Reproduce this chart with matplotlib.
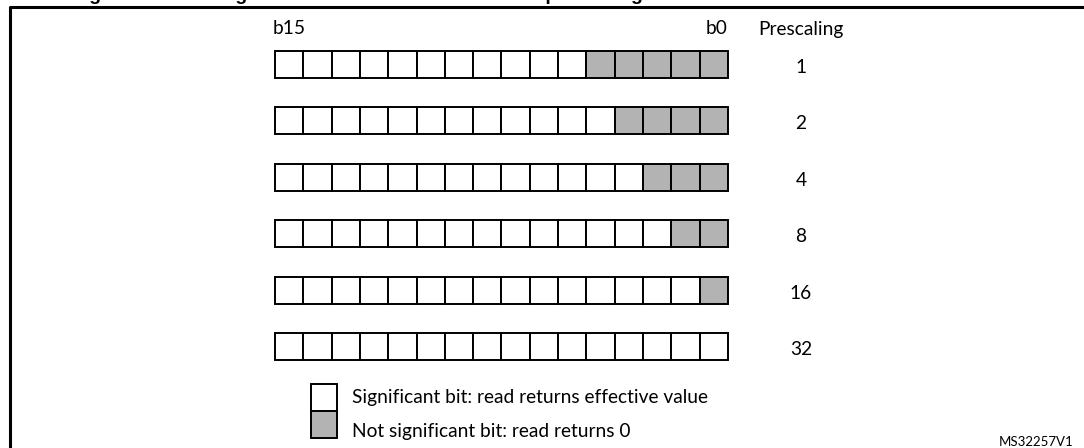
import matplotlib.pyplot as plt
from matplotlib.patches import Rectangle

# prescaling factor of each row and how many low bits are not significant
prescaling = [1, 2, 4, 8, 16, 32]
ignored_bits = [5, 4, 3, 2, 1, 0]
n_bits = 16
msb_label, lsb_label = "b15", "b0"
column_title = "Prescaling"
legend_labels = ["Significant bit: read returns effective value",
                 "Not significant bit: read returns 0"]
title = "Figure 30. Data register read value as a function of prescaling"
ref_code = "MS32257V1"

# layout (pixels)
W, H = 1084, 448
x0, cell_w = 275, 28.3
y0, row_h, row_pitch = 51, 27, 56.4
label_x = 801
grey = "#b3b3b3"
font = "Lato"
fs = 13.8

fig = plt.figure(figsize=(W / 100, H / 100), dpi=100)
ax = fig.add_axes([0, 0, 1, 1])
ax.set_xlim(0, W)
ax.set_ylim(H, 0)
ax.axis("off")

# cut-off frame and title of the original figure
ax.plot([10, 10, W], [H, 7, 7], color="black", lw=2.2, clip_on=False)
ax.text(72, 0.5, title, ha="left", va="baseline", fontsize=14,
        fontweight="bold", family="Liberation Sans")

ax.text(x0 + cell_w / 2, 29, msb_label, ha="center", va="center",
        fontsize=fs, family=font)
ax.text(x0 + n_bits * cell_w, 29, lsb_label, ha="right", va="center",
        fontsize=fs, family=font)
ax.text(label_x, 29, column_title, ha="center", va="center",
        fontsize=fs, family=font)

for r, (p, n_grey) in enumerate(zip(prescaling, ignored_bits)):
    top = y0 + r * row_pitch
    for b in range(n_bits):
        significant = b < n_bits - n_grey
        ax.add_patch(Rectangle((x0 + b * cell_w, top), cell_w, row_h,
                               facecolor="white" if significant else grey,
                               edgecolor="black", lw=1.4))
    ax.text(label_x, top + row_h / 2 + 3, str(p), ha="center", va="center",
            fontsize=fs, family=font)

# legend
for i, (lab, fc) in enumerate(zip(legend_labels, ["white", grey])):
    ax.add_patch(Rectangle((311, 384 + i * 27), 26, 27, facecolor=fc,
                           edgecolor="black", lw=1.4))
    ax.text(352, 398 + i * 33, lab, ha="left", va="center",
            fontsize=fs, family=font)

ax.text(1073, 442, ref_code, ha="right", va="center", fontsize=9.5,
        family=font)

fig.savefig("out.png", dpi=100)
